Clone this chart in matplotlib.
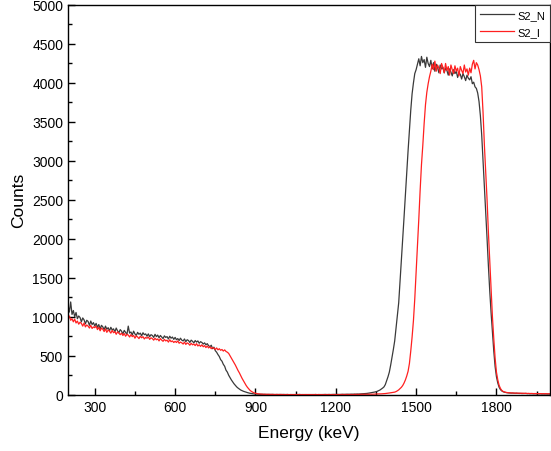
import numpy as np
import matplotlib
matplotlib.use("Agg")
import matplotlib.pyplot as plt
from matplotlib.ticker import MultipleLocator

plt.rcParams['font.family'] = ['Liberation Sans', 'DejaVu Sans']

energy_start = 200
energy_step = 5

s2_n = [
    1150, 1060, 1190, 1030, 1080, 1000, 1055, 975, 1010, 990, 935, 985, 960, 910, 955, 940, 890, 945, 900, 925,
    880, 915, 865, 900, 845, 890, 870, 835, 880, 840, 860, 820, 865, 830, 845, 805, 855, 820, 795, 835,
    815, 780, 825, 800, 770, 880, 790, 805, 765, 815, 780, 760, 800, 775, 790, 755, 795, 770, 780, 750,
    780, 745, 770, 760, 735, 775, 745, 765, 730, 760, 740, 720, 755, 735, 745, 715, 750, 725, 740, 710,
    735, 705, 720, 695, 725, 700, 690, 715, 680, 705, 695, 670, 700, 685, 665, 695, 675, 690, 660, 680,
    670, 650, 665, 640, 655, 630, 615, 635, 590, 610, 565, 545, 515, 490, 450, 430, 390, 365, 315, 290,
    250, 220, 190, 165, 140, 120, 100, 85, 72, 60, 52, 44, 38, 32, 27, 22, 18, 15, 12, 10,
    9, 7, 8, 6, 5, 6, 4, 5, 4, 3, 4, 3, 3, 4, 2, 3, 3, 2, 3, 2,
    2, 3, 2, 2, 3, 1, 2, 2, 1, 2, 2, 1, 2, 3, 1, 2, 1, 2, 2, 1,
    2, 1, 2, 2, 1, 3, 1, 2, 2, 1, 2, 2, 3, 2, 2, 3, 2, 3, 3, 4,
    3, 4, 3, 3, 4, 5, 4, 5, 5, 6, 5, 6, 7, 6, 8, 7, 9, 8, 10, 11,
    12, 13, 15, 16, 18, 21, 24, 27, 30, 34, 38, 44, 52, 60, 72, 85, 100, 130, 180, 230,
    290, 380, 480, 580, 690, 850, 1000, 1180, 1450, 1720, 2000, 2280, 2570, 2850, 3130, 3400, 3650, 3860, 4000, 4120,
    4170, 4240, 4310, 4220, 4340, 4260, 4300, 4200, 4330, 4250, 4210, 4290, 4180, 4260, 4150, 4240, 4200, 4130, 4230, 4180,
    4200, 4130, 4190, 4160, 4100, 4180, 4140, 4090, 4170, 4120, 4150, 4070, 4130, 4110, 4050, 4120, 4080, 4030, 4100, 4060,
    4040, 4080, 3990, 4010, 3950, 3930, 3870, 3760, 3580, 3330, 3000, 2680, 2350, 2000, 1650, 1330, 1050, 800, 560, 360,
    230, 150, 95, 65, 48, 38, 32, 28, 25, 23, 22, 20, 21, 19, 18, 19, 17, 16, 17, 15,
    15, 14, 16, 13, 14, 12, 13, 12, 11, 12, 10, 11, 10, 11, 9, 10, 9, 10, 8, 9, 8,
]

s2_i = [
    990, 1010, 955, 975, 935, 970, 920, 945, 905, 930, 915, 880, 920, 870, 895, 880, 855, 890, 850, 870,
    860, 880, 835, 865, 820, 855, 840, 810, 845, 800, 830, 815, 790, 825, 795, 810, 775, 805, 790, 770,
    790, 760, 785, 750, 775, 765, 740, 770, 745, 760, 725, 755, 740, 720, 750, 730, 745, 715, 735, 725,
    740, 710, 730, 720, 700, 725, 705, 715, 690, 720, 700, 685, 710, 690, 700, 675, 705, 680, 690, 670,
    685, 670, 690, 660, 675, 665, 650, 675, 645, 665, 655, 635, 660, 640, 650, 630, 655, 625, 640, 620,
    640, 615, 630, 605, 625, 600, 615, 590, 605, 595, 580, 600, 575, 590, 570, 580, 560, 575, 555, 545,
    530, 500, 470, 440, 410, 380, 345, 310, 280, 245, 210, 180, 150, 120, 95, 75, 55, 42, 32, 24,
    18, 14, 11, 9, 8, 6, 6, 5, 4, 5, 4, 3, 4, 3, 3, 2, 3, 2, 2, 3,
    2, 2, 1, 2, 2, 1, 2, 1, 2, 1, 1, 2, 1, 2, 1, 1, 2, 1, 1, 2,
    1, 2, 1, 1, 2, 1, 1, 2, 1, 2, 1, 1, 2, 1, 2, 2, 1, 2, 2, 1,
    2, 2, 1, 2, 2, 3, 2, 2, 3, 2, 3, 3, 2, 3, 3, 4, 3, 4, 4, 5,
    5, 4, 5, 6, 5, 6, 7, 6, 7, 8, 8, 9, 10, 10, 11, 12, 13, 15, 17, 20,
    22, 25, 27, 30, 33, 40, 50, 62, 78, 95, 118, 150, 190, 240, 300, 400, 560, 740, 950, 1230,
    1570, 1900, 2250, 2620, 2950, 3200, 3480, 3720, 3880, 3990, 4080, 4150, 4240, 4170, 4280, 4150, 4230, 4190, 4120, 4250,
    4200, 4130, 4250, 4160, 4210, 4100, 4230, 4170, 4120, 4220, 4150, 4190, 4090, 4210, 4160, 4120, 4230, 4140, 4180, 4100,
    4190, 4130, 4240, 4290, 4180, 4260, 4230, 4170, 4090, 3950, 3620, 3200, 2850, 2500, 2080, 1720, 1340, 1000, 720, 470,
    290, 190, 120, 80, 55, 42, 35, 30, 27, 25, 24, 22, 23, 21, 20, 21, 19, 20, 18, 19,
    18, 17, 18, 16, 17, 15, 16, 15, 14, 15, 13, 14, 13, 14, 12, 13, 12, 13, 11, 12, 11,
]

labels = ["S2_N", "S2_I"]
x_ticks = [300, 600, 900, 1200, 1500, 1800]
y_ticks = [0, 500, 1000, 1500, 2000, 2500, 3000, 3500, 4000, 4500, 5000]

energy = energy_start + energy_step * np.arange(len(s2_n))

fig = plt.figure(figsize=(5.51, 4.52), dpi=100)
ax = fig.add_axes([68/551, 1 - 395.7/452, (550 - 68)/551, (395.7 - 6)/452])

ax.plot(energy, s2_n, color='#3a3a3a', lw=0.9, label=labels[0])
ax.plot(energy, s2_i, color='#ff2020', lw=0.9, label=labels[1])

ax.set_xlim(200, 2000)
ax.set_ylim(0, 5000)
ax.set_xticks(x_ticks)
ax.set_yticks(y_ticks)
ax.xaxis.set_minor_locator(MultipleLocator(150))
ax.yaxis.set_minor_locator(MultipleLocator(250))
ax.tick_params(which='both', direction='in', top=False, right=False, labelsize=10, width=1.0)
ax.tick_params(which='major', length=5)
ax.tick_params(which='minor', length=3)
for s in ax.spines.values():
    s.set_linewidth(1.0)

ax.set_xlabel("Energy (keV)", fontsize=12.5, labelpad=8)
ax.set_ylabel("Counts", fontsize=12.5, labelpad=4)

leg = ax.legend(loc='upper right', borderaxespad=0, fancybox=False, edgecolor='#333333',
                framealpha=1, fontsize=8, handlelength=3.0, handletextpad=0.3,
                borderpad=0.45, labelspacing=0.6)
leg.get_frame().set_linewidth(0.8)

fig.savefig("out.png", dpi=100)
